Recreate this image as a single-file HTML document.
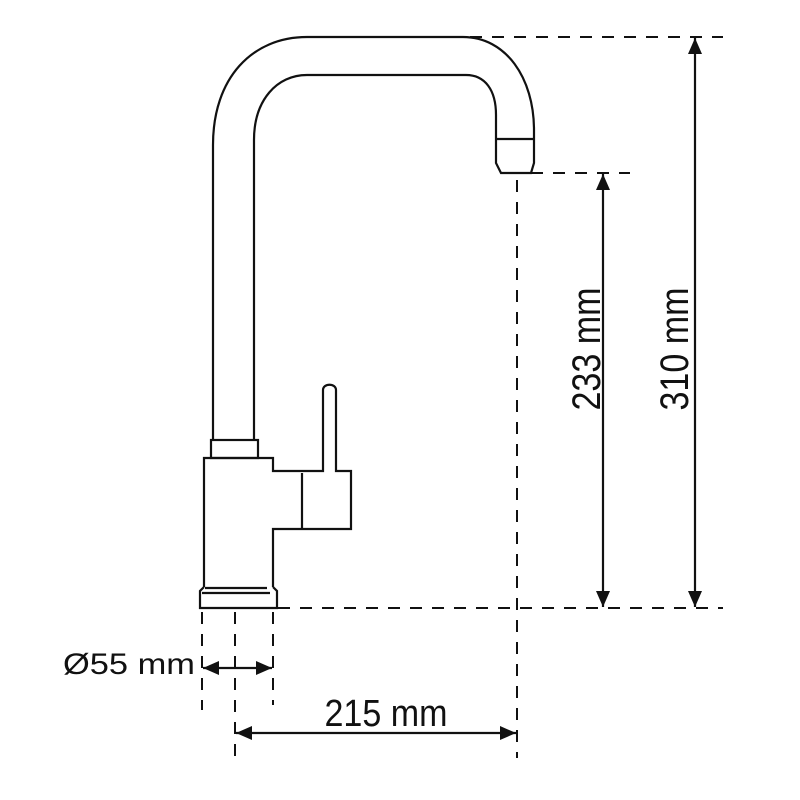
<!DOCTYPE html>
<html><head><meta charset="utf-8"><style>html,body{margin:0;padding:0;background:#fff}svg{display:block}</style></head>
<body>
<svg width="800" height="800" viewBox="0 0 800 800" xmlns="http://www.w3.org/2000/svg">
<defs>
<marker id="ah" viewBox="0 0 16 14" refX="16" refY="7" markerWidth="16" markerHeight="14" markerUnits="userSpaceOnUse" orient="auto-start-reverse">
<path d="M0,0 L16,7 L0,14 Z" fill="#111"/>
</marker>
</defs>
<g fill="none" stroke="#111" stroke-width="2.2" stroke-linejoin="miter">
<!-- spout -->
<path d="M213,440 L213,145 C213,78 252,37 307,37 L463,37 C506,37 534,78 534,130 L534,163 L531,173 L501,173 L496,163 L496,115 C496,90 485,75 466,75 L307,75 C277,75 254,100 254,140 L254,440"/>
<line x1="496" y1="139" x2="534" y2="139"/>
<!-- collar -->
<rect x="211" y="440" width="47" height="18"/>
<!-- body -->
<path d="M204,587 L204,458 L273,458 L273,471 L323,471 L323,390 C323,383 336,383 336,390 L336,471 L351,471 L351,529 L273,529 L273,587"/>
<line x1="302" y1="473" x2="302" y2="529"/>
<!-- base -->
<path d="M204,587 L200,591 L200,608 L277,608 L277,591 L273,587"/>
<line x1="205" y1="588" x2="267" y2="588"/>
<line x1="202" y1="593" x2="270" y2="593"/>
</g>
<g fill="none" stroke="#111" stroke-width="2" stroke-dasharray="12,10">
<line x1="470" y1="37" x2="723" y2="37"/>
<line x1="531" y1="173" x2="630" y2="173"/>
<line x1="278" y1="608" x2="723" y2="608"/>
<line x1="517" y1="180" x2="517" y2="758"/>
<line x1="202" y1="612" x2="202" y2="710"/>
<line x1="235" y1="612" x2="235" y2="758"/>
<line x1="273" y1="612" x2="273" y2="705"/>
</g>
<g stroke="#111" stroke-width="2.2">
<line x1="603" y1="174" x2="603" y2="607" marker-start="url(#ah)" marker-end="url(#ah)"/>
<line x1="695" y1="38" x2="695" y2="607" marker-start="url(#ah)" marker-end="url(#ah)"/>
<line x1="203" y1="668" x2="272" y2="668" marker-start="url(#ah)" marker-end="url(#ah)"/>
<line x1="236" y1="733" x2="516" y2="733" marker-start="url(#ah)" marker-end="url(#ah)"/>
</g>
<g font-family="'Liberation Sans', sans-serif" fill="#111">
<text x="386" y="726" font-size="38" text-anchor="middle" textLength="123" lengthAdjust="spacingAndGlyphs">215 mm</text>
<text x="129" y="674" font-size="30" text-anchor="middle" textLength="132" lengthAdjust="spacingAndGlyphs">Ø55 mm</text>
<text transform="translate(600,349) rotate(-90)" x="0" y="0" font-size="40" text-anchor="middle" textLength="123" lengthAdjust="spacingAndGlyphs">233 mm</text>
<text transform="translate(688,349) rotate(-90)" x="0" y="0" font-size="40" text-anchor="middle" textLength="123" lengthAdjust="spacingAndGlyphs">310 mm</text>
</g>
</svg>
</body></html>
